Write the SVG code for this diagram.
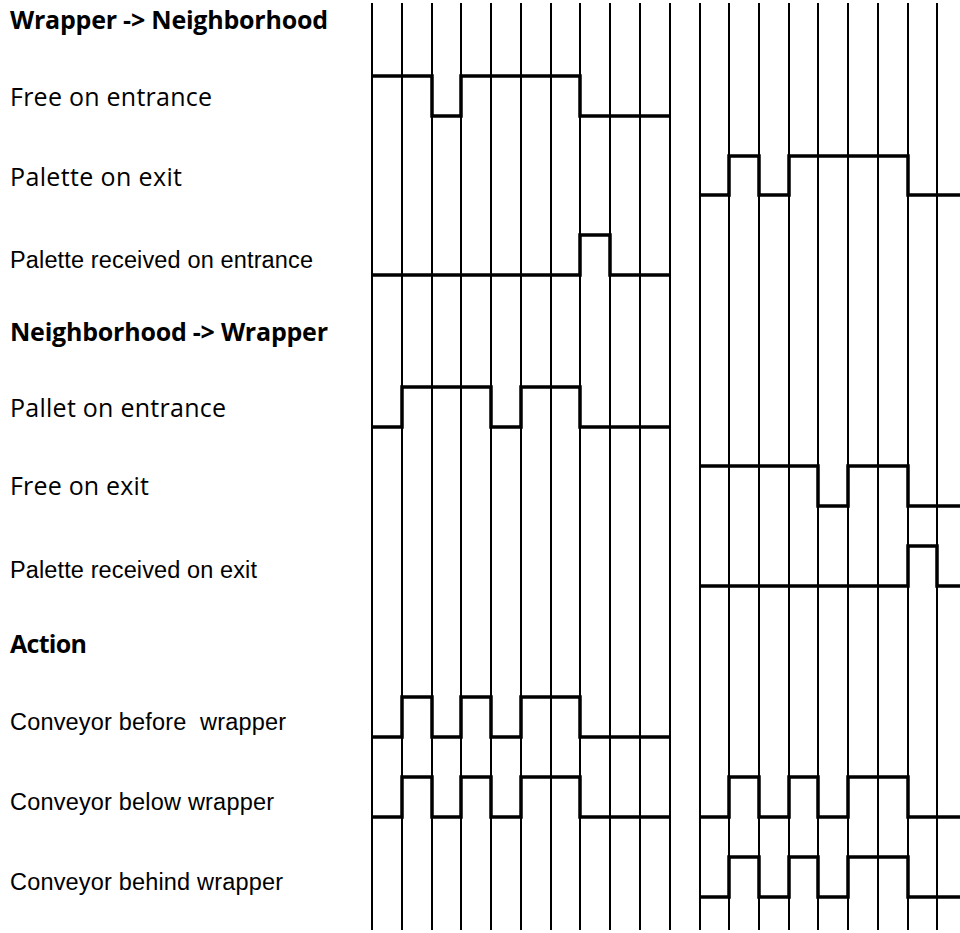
<svg xmlns="http://www.w3.org/2000/svg" width="960" height="933" viewBox="0 0 960 933">
<style>
.bg{fill:#fff}
.grid line{stroke:#000;stroke-width:2}
.wave{fill:none;stroke:#000;stroke-width:3.5;stroke-linejoin:miter;stroke-linecap:butt}
.cal{font-family:"Open Sans","Noto Sans","Liberation Sans",sans-serif;font-size:25px;fill:#000}
.calb{font-family:"Open Sans","Noto Sans","Liberation Sans",sans-serif;font-size:25px;font-weight:bold;fill:#000}
.ari{font-family:"Liberation Sans",Arial,sans-serif;font-size:23.5px;fill:#000;white-space:pre}
</style>
<rect class="bg" x="0" y="0" width="960" height="933"/>
<g id="grid" class="grid">
<line x1="372" y1="3" x2="372" y2="930"/>
<line x1="402" y1="3" x2="402" y2="930"/>
<line x1="432" y1="3" x2="432" y2="930"/>
<line x1="461" y1="3" x2="461" y2="930"/>
<line x1="491" y1="3" x2="491" y2="930"/>
<line x1="521" y1="3" x2="521" y2="930"/>
<line x1="551" y1="3" x2="551" y2="930"/>
<line x1="580" y1="3" x2="580" y2="930"/>
<line x1="610" y1="3" x2="610" y2="930"/>
<line x1="640" y1="3" x2="640" y2="930"/>
<line x1="670" y1="3" x2="670" y2="930"/>
<line x1="700" y1="3" x2="700" y2="930"/>
<line x1="729" y1="3" x2="729" y2="930"/>
<line x1="759" y1="3" x2="759" y2="930"/>
<line x1="789" y1="3" x2="789" y2="930"/>
<line x1="818" y1="3" x2="818" y2="930"/>
<line x1="848" y1="3" x2="848" y2="930"/>
<line x1="878" y1="3" x2="878" y2="930"/>
<line x1="908" y1="3" x2="908" y2="930"/>
<line x1="937" y1="3" x2="937" y2="930"/>
</g>
<g id="heading-wn"><text class="calb" x="10" y="29" textLength="318" lengthAdjust="spacing">Wrapper -&gt; Neighborhood</text></g>
<g id="free-on-entrance">
<text class="cal" x="10" y="106" textLength="202" lengthAdjust="spacing">Free on entrance</text>
<path class="wave" d="M372,76 H432 V116 H461 V76 H580 V116 H670"/>
</g>
<g id="palette-on-exit">
<text class="cal" x="10" y="186" textLength="172" lengthAdjust="spacing">Palette on exit</text>
<path class="wave" d="M700,195 H729 V156 H759 V195 H789 V156 H908 V195 H960"/>
</g>
<g id="palette-received-on-entrance">
<text class="ari" x="10" y="268" textLength="303" lengthAdjust="spacing">Palette received on entrance</text>
<path class="wave" d="M372,275 H580 V235 H610 V275 H670"/>
</g>
<g id="heading-nw"><text class="calb" x="10" y="341" textLength="318" lengthAdjust="spacing">Neighborhood -&gt; Wrapper</text></g>
<g id="pallet-on-entrance">
<text class="cal" x="10" y="417" textLength="216" lengthAdjust="spacing">Pallet on entrance</text>
<path class="wave" d="M372,427 H402 V387 H491 V427 H521 V387 H580 V427 H670"/>
</g>
<g id="free-on-exit">
<text class="cal" x="10" y="495" textLength="139" lengthAdjust="spacing">Free on exit</text>
<path class="wave" d="M700,466 H818 V506 H848 V466 H908 V506 H960"/>
</g>
<g id="palette-received-on-exit">
<text class="ari" x="10" y="578" textLength="247" lengthAdjust="spacing">Palette received on exit</text>
<path class="wave" d="M700,586 H908 V546 H937 V586 H960"/>
</g>
<g id="heading-action"><text class="calb" x="10" y="653" textLength="77" lengthAdjust="spacing">Action</text></g>
<g id="conveyor-before">
<text class="ari" x="10" y="730" textLength="276" lengthAdjust="spacing" xml:space="preserve">Conveyor before  wrapper</text>
<path class="wave" d="M372,737 H402 V697 H432 V737 H461 V697 H491 V737 H521 V697 H580 V737 H670"/>
</g>
<g id="conveyor-below">
<text class="ari" x="10" y="810" textLength="264" lengthAdjust="spacing">Conveyor below wrapper</text>
<path class="wave" d="M372,817 H402 V777 H432 V817 H461 V777 H491 V817 H521 V777 H580 V817 H670"/>
<path class="wave" d="M700,817 H729 V777 H759 V817 H789 V777 H818 V817 H848 V777 H908 V817 H960"/>
</g>
<g id="conveyor-behind">
<text class="ari" x="10" y="890" textLength="273" lengthAdjust="spacing">Conveyor behind wrapper</text>
<path class="wave" d="M700,897 H729 V857 H759 V897 H789 V857 H818 V897 H848 V857 H908 V897 H960"/>
</g>
</svg>
